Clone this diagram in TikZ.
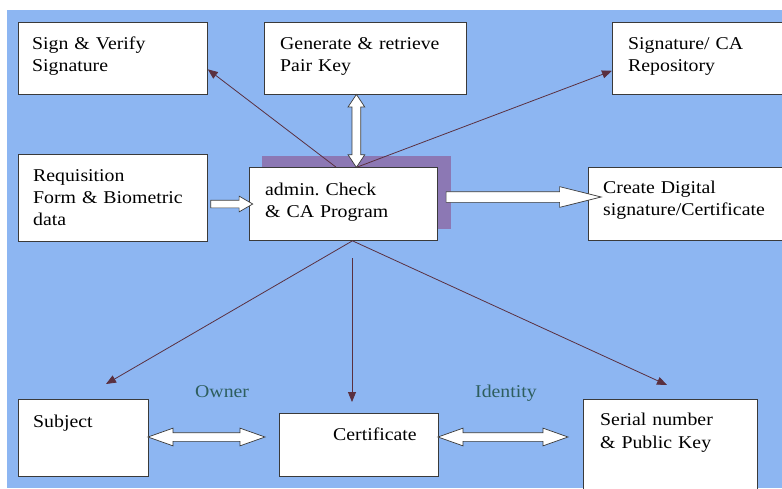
\documentclass[tikz,border=0pt]{standalone}
\usepackage{fontspec}
\setmainfont{Liberation Serif}[FakeStretch=1.1]
\usetikzlibrary{calc,arrows.meta,shapes.arrows}

\definecolor{sky}{HTML}{8DB6F2}
\definecolor{dropc}{HTML}{8C78B4}
\definecolor{edge}{HTML}{3A3A3A}
\definecolor{wire}{HTML}{5A3040}
\definecolor{note}{HTML}{2E5E5E}

\tikzset{
  box/.style={draw=edge, line width=0.8pt, fill=white, anchor=north west, inner sep=0pt},
  txt/.style={anchor=base west, inner sep=0pt, text width=190pt, align=left,
              font=\frenchspacing\fontsize{18}{22}\selectfont, text=black},
  tag/.style={anchor=base west, inner sep=0pt, font=\fontsize{18}{22}\selectfont, text=note},
  wireline/.style={draw=wire, line width=0.8pt, -{Triangle[length=10pt,width=8pt]}},
  fatone/.style={single arrow, draw=edge, line width=0.7pt, fill=white,
                 inner xsep=0pt, minimum width=0pt},
  fattwo/.style={double arrow, draw=edge, line width=0.7pt, fill=white,
                 inner xsep=0pt, minimum width=0pt}
}

\begin{document}
\begin{tikzpicture}[x=1pt,y=-1pt]
  \useasboundingbox (0,0) rectangle (782,488);
  \clip (0,0) rectangle (782,488);
  \fill[sky] (7,10) rectangle (782,488);

  % drop shadow behind the central program box
  \fill[dropc] (262,156) rectangle (451,229);

  % boxes
  \node[box, minimum width=189pt, minimum height=72pt] (sv)  at (18,22)  {};
  \node[box, minimum width=202pt, minimum height=72pt] (gen) at (264,22) {};
  \node[box, minimum width=190pt, minimum height=72pt] (rep) at (612,22) {};
  \node[box, minimum width=189pt, minimum height=87pt] (req) at (18,154) {};
  \node[box, minimum width=188pt, minimum height=73pt] (adm) at (249,167) {};
  \node[box, minimum width=210pt, minimum height=73pt] (cre) at (588,167) {};
  \node[box, minimum width=130pt, minimum height=77pt] (sub) at (18,399) {};
  \node[box, minimum width=159pt, minimum height=63pt] (cer) at (279,413) {};
  \node[box, minimum width=174pt, minimum height=100pt] (ser) at (583,399) {};

  % box texts
  \node[txt] (sv-t)  at (32,49)   {Sign \& Verify\\Signature};
  \node[txt] (gen-t) at (280,49)  {Generate \& retrieve\\Pair Key};
  \node[txt] (rep-t) at (628,49)  {Signature/ CA\\Repository};
  \node[txt] (req-t) at (33,181)  {Requisition\\Form \& Biometric\\data};
  \node[txt] (adm-t) at (265,195) {admin. Check\\\& CA Program};
  \node[txt] (cre-t) at (603,193) {Create Digital\\signature/Certificate};
  \node[txt] (sub-t) at (33,427)  {Subject};
  \node[txt] (cer-t) at (333,440) {Certificate};
  \node[txt] (ser-t) at (600,425) {Serial number\\[1pt]\& Public Key};

  % relation labels
  \node[tag] (own) at (195,397) {Owner};
  \node[tag] (idn) at (475,397) {Identity};

  % hollow block arrows (shaft width = 2 x inner ysep)
  \node[fatone, minimum height=42pt, inner ysep=3.5pt,
        single arrow head extend=4pt, single arrow tip angle=60] (ra)
        at ($(req.east|-0,204)!0.5!(adm.west|-0,204)$) {};
  \node[fatone, minimum height=155pt, inner ysep=5pt,
        single arrow head extend=5pt, single arrow tip angle=28] (ca)
        at ($(adm.east|-0,197)!0.5!(cre.west|-0,197)$) {};
  \node[fattwo, rotate=90, minimum height=73pt, inner ysep=4pt,
        double arrow head extend=4pt, double arrow tip angle=67] (ga)
        at ($(gen.south)!0.5!(adm.north)+(2,0)$) {};
  \node[fattwo, minimum height=117pt, inner ysep=4pt,
        double arrow head extend=4.5pt, double arrow tip angle=39] (sa)
        at (206.5,437) {};
  \node[fattwo, minimum height=130pt, inner ysep=4pt,
        double arrow head extend=4.5pt, double arrow tip angle=39] (ta)
        at (503,437) {};

  % thin connectors from the program box
  \coordinate (a-top1) at ($(adm.north west)!0.46!(adm.north east)$);
  \coordinate (a-top2) at ($(adm.north west)!0.574!(adm.north east)$);
  \coordinate (a-bot)  at ($(adm.south west)!0.548!(adm.south east)$);
  \coordinate (sv-in)  at ($(sv.south east)!0.35!(sv.north east)$);
  \coordinate (rep-in) at ($(rep.south west)!0.33!(rep.north west)$);
  \coordinate (sub-in) at (106,384);
  \coordinate (cer-s)  at (352,258);
  \coordinate (cer-in) at (352,402);
  \coordinate (ser-in) at (667,385);

  \draw[wireline] (a-top1) -- (sv-in);
  \draw[wireline] (a-top2) -- (rep-in);
  \draw[wireline] (a-bot) -- (sub-in);
  \draw[wireline] (cer-s) -- (cer-in);
  \draw[wireline] (a-bot) -- (ser-in);
\end{tikzpicture}
\end{document}
